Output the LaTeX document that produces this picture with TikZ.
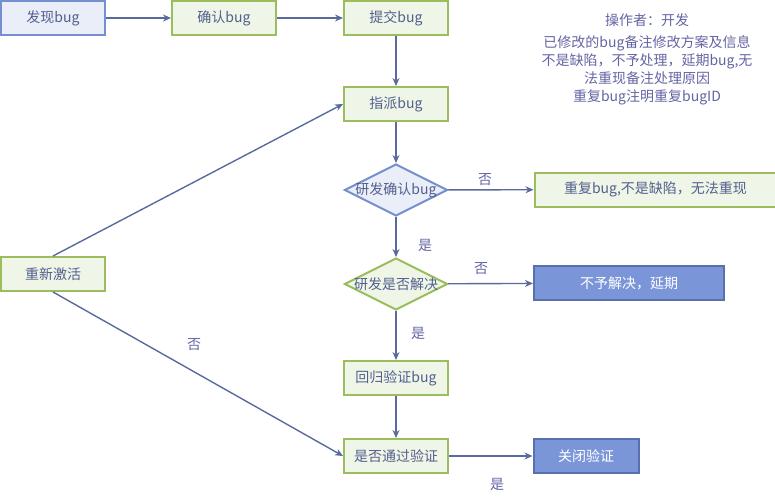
\documentclass[tikz,border=0pt]{standalone}
\usepackage{fontspec}
\setmainfont{Noto Sans CJK SC}
\usetikzlibrary{arrows.meta,shapes.geometric}
\definecolor{txt}{HTML}{53608F}
\definecolor{lbl}{HTML}{6464A4}
\definecolor{gfill}{HTML}{EFF5E7}
\definecolor{gline}{HTML}{9CBD5E}
\definecolor{bfill}{HTML}{EAEEF8}
\definecolor{bline}{HTML}{7590CF}
\definecolor{dfill}{HTML}{7B96D8}
\definecolor{dline}{HTML}{5B6FAE}
\definecolor{arr}{HTML}{5A6A9E}
\begin{document}
\begin{tikzpicture}[x=1pt,y=-1pt,
  font=\fontsize{14}{17}\selectfont,
  base/.style={draw, line width=2pt, inner sep=0pt, minimum height=34pt, text=txt},
  gbox/.style={base, draw=gline, fill=gfill, minimum width=104pt},
  bbox/.style={base, draw=bline, fill=bfill, minimum width=104pt},
  dbox/.style={base, draw=dline, fill=dfill, text=white},
  gdia/.style={diamond, draw=gline, fill=gfill, line width=2pt, inner sep=0pt, minimum width=103pt, minimum height=52pt, label={[text=txt]center:#1}},
  bdia/.style={diamond, draw=bline, fill=bfill, line width=2pt, inner sep=0pt, minimum width=103pt, minimum height=52pt, label={[text=txt]center:#1}},
  conn/.style={draw=arr, line width=1.4pt, -{Stealth[length=8pt,width=7pt]}},
  yn/.style={text=lbl}
]
\useasboundingbox (0,0) rectangle (775,500);
\node[bbox] (find) at (53,18) {发现bug};
\node[gbox] (confirm) at (224,18) {确认bug};
\node[gbox] (submit) at (396,18) {提交bug};
\node[gbox] (assign) at (396,104) {指派bug};
\node[bdia={研发确认bug}] (devc) at (396,190) {};
\node[gdia={研发是否解决}] (devs) at (396,284) {};
\node[gbox] (regr) at (396,378) {回归验证bug};
\node[gbox] (pass) at (396,456) {是否通过验证};
\node[gbox] (react) at (53,274) {重新激活};
\node[gbox, minimum width=242pt] (dup) at (655.5,189.5) {重复bug,不是缺陷，无法重现};
\node[dbox, minimum width=190pt] (defer) at (629,283) {不予解决，延期};
\node[dbox, minimum width=105pt] (close) at (586,456) {关闭验证};

\draw[conn] (find) -- (confirm);
\draw[conn] (confirm) -- (submit);
\draw[conn] (submit) -- (assign);
\draw[conn] (assign) -- (devc);
\draw[conn] (devc) -- (dup);
\draw[conn] (devc) -- (devs);
\draw[conn] (devs) -- (defer);
\draw[conn] (devs) -- (regr);
\draw[conn] (regr) -- (pass);
\draw[conn] (pass) -- (close);
\draw[conn] (react.north) -- (assign.west);
\draw[conn] (react.south) -- (pass.west);

\node[yn] (l1) at (485,180) {否};
\node[yn] (l2) at (425,245) {是};
\node[yn] (l3) at (481,269) {否};
\node[yn] (l4) at (418,333) {是};
\node[yn] (l5) at (194,345) {否};
\node[yn] (l6) at (497,484) {是};

\node[text=lbl, align=center] (note) at (647,20.5) {操作者：开发};
\node[text=lbl, align=center, font=\fontsize{14}{18}\selectfont, anchor=north] (note2) at (647,32) {已修改的bug备注修改方案及信息\\不是缺陷，不予处理，延期bug,无\\法重现备注处理原因\\重复bug注明重复bugID};
\end{tikzpicture}
\end{document}
